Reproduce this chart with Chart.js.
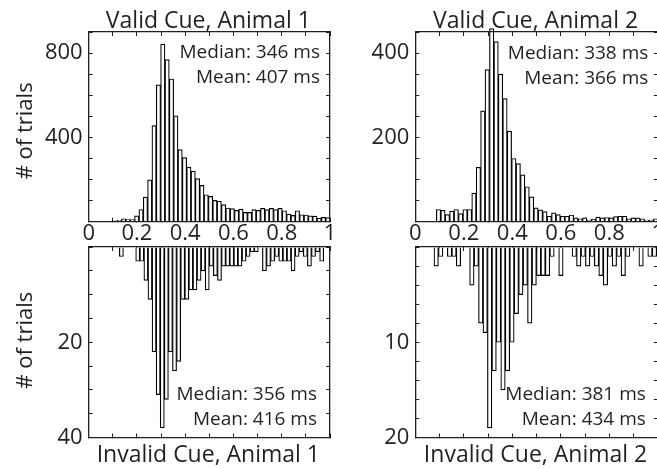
<!DOCTYPE html>
<html>
<head>
<meta charset="utf-8">
<script src="https://cdn.jsdelivr.net/npm/chart.js@4.4.1/dist/chart.umd.min.js"></script>
<style>
  html, body { margin: 0; padding: 0; background: #fff; overflow: hidden; width: 657px; height: 469px; }
  canvas { position: absolute; left: 0; top: 0; }
</style>
</head>
<body>
<canvas id="validChart1" width="700" height="469"></canvas>
<canvas id="validChart2" width="700" height="469"></canvas>
<canvas id="invalidChart1" width="700" height="469"></canvas>
<canvas id="invalidChart2" width="700" height="469"></canvas>
<script>
// histogram counts (50 bins each)
const validCounts1 = [4, 8, 14, 10, 10, 28, 58, 117, 199, 456,
  649, 842, 769, 677, 502, 342, 304, 259, 240, 204,
  172, 128, 120, 101, 97, 81, 65, 62, 54, 60,
  44, 44, 57, 54, 63, 57, 63, 57, 63, 52,
  36, 30, 52, 33, 32, 28, 27, 17, 21, 19];
const validCounts2 = [29, 27, 17, 25, 29, 19, 29, 29, 68, 129,
  263, 361, 458, 427, 350, 292, 215, 150, 138, 111,
  83, 59, 33, 28, 24, 13, 21, 17, 13, 13,
  16, 9, 7, 9, 4, 6, 11, 9, 10, 9,
  12, 13, 13, 7, 9, 9, 7, 4, 4, 7];
const invalidCounts1 = [2, 0, 0, 0, 3, 3, 7, 11, 22, 31,
  38, 32, 22, 26, 24, 11, 11, 9, 9, 7,
  5, 9, 4, 6, 7, 4, 4, 4, 4, 4,
  3, 2, 1, 1, 0, 5, 4, 3, 2, 3,
  3, 3, 5, 2, 1, 2, 4, 2, 1, 3];
const invalidCounts2 = [2, 1, 0, 1, 1, 2, 0, 0, 4, 2,
  8, 9, 19, 13, 10, 15, 13, 10, 7, 5,
  4, 8, 4, 3, 3, 3, 1, 0, 3, 0,
  0, 1, 2, 1, 2, 1, 2, 3, 4, 1,
  2, 1, 3, 1, 0, 0, 2, 0, 1, 1];

// reaction time range covered by the bins (s)
const validRange1 = [0.1, 1.0];
const validRange2 = [0.0866, 1.0];
const invalidRange1 = [0.127, 0.974];
const invalidRange2 = [0.077, 0.9954];

// tick labels
const xTickLabels = [0, 0.2, 0.4, 0.6, 0.8, 1];
const validYLabels1 = [400, 800];
const validYLabels2 = [200, 400];
const invalidYLabels1 = [20, 40];
const invalidYLabels2 = [10, 20];

const FONT = '"Open Sans", sans-serif';
const INK = '#231f20';

function toBins(range, counts) {
  const w = (range[1] - range[0]) / counts.length;
  return counts.map((c, i) => ({ x: range[0] + (i + 0.5) * w, y: c }));
}

function hasValue(list, v) {
  return list.some(t => Math.abs(t - v) < 1e-9);
}

// texts around each panel
const panelText = {
  id: 'panelText',
  afterDraw(chart, args, opts) {
    const { ctx, chartArea: a } = chart;
    ctx.save();
    ctx.fillStyle = INK;
    ctx.font = '23px ' + FONT;
    ctx.textAlign = 'center';
    ctx.textBaseline = 'alphabetic';
    ctx.fillText(opts.title, (a.left + a.right) / 2 - 1, opts.titleY);

    ctx.font = '19px ' + FONT;
    ctx.textAlign = 'right';
    opts.stats.forEach((s, i) => ctx.fillText(s, a.right - opts.statsInset, opts.statsY + i * 25));

    if (opts.yTitle) {
      ctx.translate(26, (a.top + a.bottom) / 2 + opts.yTitleShift);
      ctx.rotate(-Math.PI / 2);
      ctx.font = '22px ' + FONT;
      ctx.textAlign = 'center';
      ctx.textBaseline = 'middle';
      ctx.fillText(opts.yTitle, 0, 0);
    }
    ctx.restore();
  }
};

// size: room kept for the tick labels (labels are clipped to the scale box)
function axis(position, min, max, step, labels, size, pad, reverse) {
  return {
    type: 'linear',
    position: position,
    min: min,
    max: max,
    offset: false,
    reverse: !!reverse,
    afterFit: s => { if (s.isHorizontal()) s.height = size; else s.width = size; },
    border: { display: true, color: INK, width: 1.3, z: 1 },
    grid: { offset: false, drawOnChartArea: false, drawTicks: true, tickLength: -4, color: INK, lineWidth: 1 },
    ticks: {
      display: !!labels,
      stepSize: step,
      autoSkip: false,
      maxRotation: 0,
      padding: pad || 0,
      color: INK,
      font: { family: FONT, size: 22 },
      callback: v => (labels && hasValue(labels, v)) ? String(+v.toFixed(1)) : ''
    }
  };
}

function histogram(id, counts, range, yMax, yStep, yLabels, topPanel, padding, text) {
  const ctx = document.getElementById(id).getContext('2d');
  return new Chart(ctx, {
    type: 'bar',
    data: {
      datasets: [{
        data: toBins(range, counts),
        backgroundColor: '#ffffff',
        borderColor: '#000000',
        borderWidth: 1.2,
        barPercentage: 1,
        categoryPercentage: 1,
        clip: { left: 0, right: 0, top: 5, bottom: 0 }
      }]
    },
    options: {
      responsive: false,
      animation: false,
      layout: { padding: padding },
      scales: {
        x: axis('bottom', 0, 1, 0.1, topPanel ? xTickLabels : null, topPanel ? 26 : 0, 3),
        x2: axis('top', 0, 1, 0.1, null, 0),
        y: axis('left', 0, yMax, yStep, yLabels, 50, 10, !topPanel),
        y2: axis('right', 0, yMax, yStep, null, 0, 0, !topPanel)
      },
      plugins: {
        legend: { display: false },
        tooltip: { enabled: false },
        panelText: text
      }
    },
    plugins: [panelText]
  });
}

histogram('validChart1', validCounts1, validRange1, 900, 100, validYLabels1, true,
  { left: 38.7, top: 32, right: 370, bottom: 221.3 },
  { title: 'Valid Cue, Animal 1', titleY: 28, stats: ['Median: 346 ms', 'Mean: 407 ms'], statsInset: 10, statsY: 58, yTitle: '# of trials', yTitleShift: 4 });

histogram('validChart2', validCounts2, validRange2, 450, 50, validYLabels2, true,
  { left: 365.3, top: 32, right: 42.2, bottom: 221.3 },
  { title: 'Valid Cue, Animal 2', titleY: 28, stats: ['Median: 338 ms', 'Mean: 366 ms'], statsInset: 9.5, statsY: 59 });

histogram('invalidChart1', invalidCounts1, invalidRange1, 40, 5, invalidYLabels1, false,
  { left: 38.7, top: 247, right: 370, bottom: 31.5 },
  { title: 'Invalid Cue, Animal 1', titleY: 462, stats: ['Median: 356 ms', 'Mean: 416 ms'], statsInset: 13, statsY: 400, yTitle: '# of trials', yTitleShift: -2 });

histogram('invalidChart2', invalidCounts2, invalidRange2, 20, 2, invalidYLabels2, false,
  { left: 365.3, top: 247, right: 42.2, bottom: 31.5 },
  { title: 'Invalid Cue, Animal 2', titleY: 462, stats: ['Median: 381 ms', 'Mean: 434 ms'], statsInset: 12, statsY: 400 });
</script>
</body>
</html>
